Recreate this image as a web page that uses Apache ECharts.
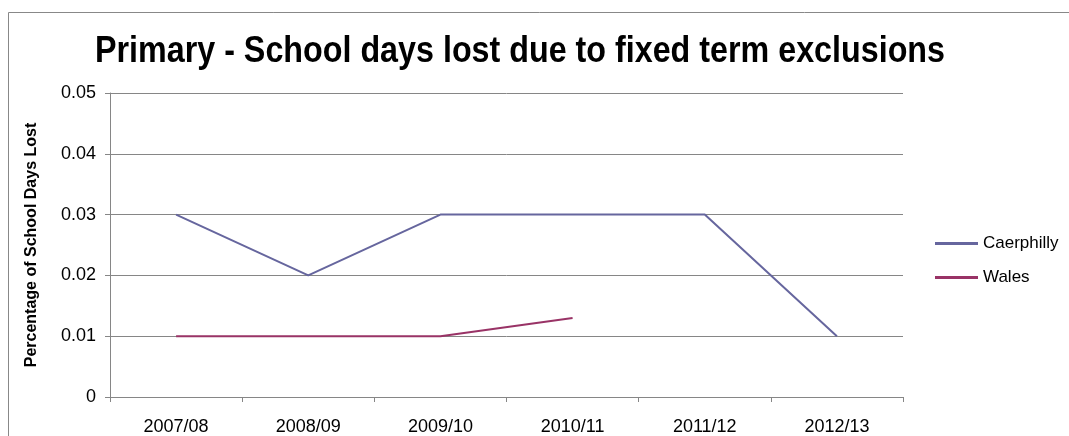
<!DOCTYPE html>
<html>
<head>
<meta charset="utf-8">
<script src="https://cdn.jsdelivr.net/npm/echarts@6/dist/echarts.min.js"></script>
<style>
  html, body { margin: 0; padding: 0; background: #fff; }
  #chart { width: 1069px; height: 436px; }
</style>
</head>
<body>
<div id="chart"></div>
<script>
const titleText = 'Primary - School days lost due to fixed term exclusions'
const years = ['2007/08', '2008/09', '2009/10', '2010/11', '2011/12', '2012/13']
const caerphilly = [0.03, 0.02, 0.03, 0.03, 0.03, 0.01]
const wales = [0.01, 0.01, 0.01, 0.013, '-', '-']

const fontFamily = '"Liberation Sans", Arial, sans-serif'
const titleFont = 'bold 37px ' + fontFamily

// squeeze the title to the width it takes in the reference
const ctx = document.createElement('canvas').getContext('2d')
ctx.font = titleFont
const titleScale = 850 / ctx.measureText(titleText).width

const chart = echarts.init(document.getElementById('chart'))

chart.setOption({
  animation: false,
  backgroundColor: '#fff',
  textStyle: { fontFamily: fontFamily },
  graphic: [
    {
      type: 'rect',
      shape: { x: 8.5, y: 12.5, width: 1200, height: 600 },
      style: { fill: 'none', stroke: '#888', lineWidth: 1 },
      silent: true
    },
    {
      type: 'text',
      x: 520,
      y: 52,
      scaleX: titleScale,
      style: {
        text: titleText,
        font: titleFont,
        fill: '#000',
        textAlign: 'center',
        textVerticalAlign: 'middle'
      }
    }
  ],
  grid: {
    left: 110,
    right: 166,
    top: 93,
    bottom: 38,
    containLabel: false
  },
  legend: {
    orient: 'vertical',
    left: 930,
    top: 230,
    itemWidth: 43,
    itemHeight: 3,
    itemGap: 17,
    icon: 'rect',
    textStyle: { fontSize: 17, color: '#000', fontFamily: fontFamily },
    data: ['Caerphilly', 'Wales']
  },
  xAxis: {
    type: 'category',
    data: years,
    boundaryGap: true,
    axisLine: { lineStyle: { color: '#868686', width: 1 } },
    axisTick: { show: true, length: 5, lineStyle: { color: '#868686' } },
    axisLabel: { color: '#000', fontSize: 18, margin: 21 }
  },
  yAxis: {
    type: 'value',
    min: 0,
    max: 0.05,
    interval: 0.01,
    name: 'Percentage of School Days Lost',
    nameLocation: 'middle',
    nameGap: 70,
    nameTextStyle: { fontSize: 16, fontWeight: 'bold', color: '#000' },
    axisLine: { show: true, lineStyle: { color: '#868686', width: 1 } },
    axisTick: { show: true, length: 5, lineStyle: { color: '#868686' } },
    splitLine: { lineStyle: { color: '#868686', width: 1 } },
    axisLabel: {
      color: '#000',
      fontSize: 18,
      margin: 14,
      formatter: function(v) {
        return v === 0 ? '0' : v.toFixed(2)
      }
    }
  },
  series: [
    {
      name: 'Caerphilly',
      type: 'line',
      data: caerphilly,
      showSymbol: false,
      symbol: 'none',
      color: '#66669E',
      lineStyle: { width: 2, color: '#66669E' }
    },
    {
      name: 'Wales',
      type: 'line',
      data: wales,
      showSymbol: false,
      symbol: 'none',
      color: '#993366',
      lineStyle: { width: 2, color: '#993366' }
    }
  ]
})
</script>
</body>
</html>
